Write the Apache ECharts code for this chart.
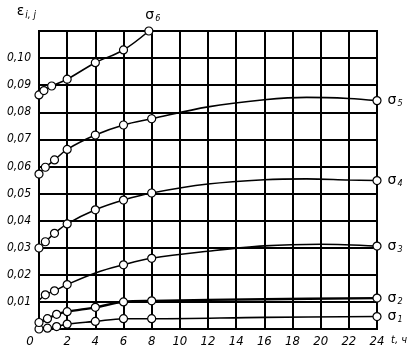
<!DOCTYPE html>
<html>
<head>
<meta charset="utf-8">
<script src="https://cdn.jsdelivr.net/npm/echarts@6/dist/echarts.min.js"></script>
<style>
  html, body { margin: 0; padding: 0; background: #fff; }
  #chart { width: 420px; height: 352px; }
</style>
</head>
<body>
<div id="chart"></div>
<script>
// t, ч  /  ε(i,j); marks = points drawn with a circle
const sigma1 = [[0, 0.0000], [0.6, 0.0003], [1.25, 0.0009], [2, 0.0018], [4, 0.0028], [6, 0.0038], [8, 0.0038], [16, 0.0043], [24, 0.0046]]
const marks1 = [0, 0.6, 1.25, 2, 4, 6, 8, 24]
const sigma2 = [[0, 0.0024], [0.6, 0.0038], [1.25, 0.0054], [2, 0.0064], [4, 0.0080], [6, 0.0100], [8, 0.0104], [16, 0.0110], [24, 0.0114]]
const marks2 = [0, 0.6, 1.25, 2, 4, 6, 8, 24]
const sigma3 = [[0, 0.0106], [0.45, 0.0126], [1.1, 0.0141], [2, 0.0164], [4, 0.0207], [6, 0.0237], [8, 0.0261], [12, 0.0287], [16, 0.0307], [20, 0.0313], [24, 0.0306]]
const marks3 = [0.45, 1.1, 2, 6, 8, 24]
const sigma4 = [[0, 0.0299], [0.45, 0.0322], [1.1, 0.0353], [2, 0.0388], [4, 0.0440], [6, 0.0476], [8, 0.0502], [12, 0.0535], [16, 0.0551], [19, 0.0554], [22, 0.0550], [24, 0.0548]]
const marks4 = [0, 0.45, 1.1, 2, 4, 6, 8, 24]
const sigma5 = [[0, 0.0572], [0.45, 0.0597], [1.1, 0.0624], [2, 0.0663], [4, 0.0716], [6, 0.0753], [8, 0.0776], [12, 0.0820], [16, 0.0846], [19, 0.0855], [22, 0.0851], [24, 0.0843]]
const marks5 = [0, 0.45, 1.1, 2, 4, 6, 8, 24]
const sigma6 = [[0, 0.0864], [0.35, 0.0880], [0.9, 0.0897], [2, 0.0922], [4, 0.0983], [6, 0.1030], [7.8, 0.1100]]
const marks6 = [0, 0.35, 0.9, 2, 4, 6, 7.8]

const names = ['1', '2', '3', '4', '5', '6']
const sets = [sigma1, sigma2, sigma3, sigma4, sigma5, sigma6]
const markSets = [marks1, marks2, marks3, marks4, marks5, marks6]

const font = "'Liberation Sans Narrow', 'DejaVu Sans Condensed', 'Liberation Sans', sans-serif"
const sigmaRich = {
  a: { fontFamily: 'DejaVu Sans', fontSize: 14, color: '#000' },
  b: { fontFamily: font, fontStyle: 'italic', fontSize: 9, color: '#000', padding: [7, 0, 0, 1] },
}

const series = sets.map((pts, i) => {
  const last = pts.length - 1
  return {
    type: 'line',
    smooth: 0.35,
    clip: false,
    z: 5,
    symbol: 'circle',
    symbolSize: 8,
    showAllSymbol: true,
    lineStyle: { color: '#000', width: i === 1 ? 2.4 : 1.6 },
    itemStyle: { color: '#fff', borderColor: '#000', borderWidth: 1.2 },
    emphasis: { disabled: true },
    data: pts.map((p, k) => {
      const item = { value: p }
      if (!markSets[i].includes(p[0])) item.symbol = 'none'
      if (k === last) {
        item.label = {
          show: true,
          position: i === 5 ? 'top' : 'right',
          distance: i === 5 ? 3 : 6,
          offset: i === 5 ? [4, 0] : [0, 0],
          formatter: '{a|σ}{b|' + names[i] + '}',
          rich: sigmaRich,
        }
      }
      return item
    }),
  }
})

const chart = echarts.init(document.getElementById('chart'))
chart.setOption({
  animation: false,
  backgroundColor: '#fff',
  grid: {
    left: 39, right: 43, top: 31, bottom: 23,
    show: true, borderColor: '#000', borderWidth: 2,
  },
  xAxis: {
    type: 'value', min: 0, max: 24, interval: 2,
    name: 't, ч', nameLocation: 'end', nameGap: 14, nameMoveOverlap: false,
    nameTextStyle: { fontFamily: font, fontStyle: 'italic', fontSize: 11, color: '#000', align: 'left', verticalAlign: 'top', padding: [6, 0, 0, 0] },
    axisLine: { lineStyle: { color: '#000', width: 2 } },
    axisTick: { show: false },
    axisLabel: {
      margin: 6, color: '#000', fontFamily: font, fontStyle: 'italic', fontSize: 13,
      formatter: (v) => (v === 0 ? '{o|0}' : String(v)),
      rich: { o: { fontFamily: font, fontStyle: 'italic', fontSize: 13, color: '#000', padding: [0, 18, 0, 0] } },
    },
    splitLine: { show: true, lineStyle: { color: '#000', width: 2 } },
  },
  yAxis: {
    type: 'value', min: 0, max: 0.11, interval: 0.01,
    name: '{e|ε}{s|i, j}', nameLocation: 'end', nameGap: 11, nameMoveOverlap: false,
    nameTextStyle: {
      align: 'right', padding: [0, 3, 0, 0],
      rich: {
        e: { fontFamily: 'DejaVu Sans', fontSize: 14, color: '#000' },
        s: { fontFamily: font, fontStyle: 'italic', fontSize: 10, color: '#000', padding: [8, 0, 0, 1] },
      },
    },
    axisLine: { lineStyle: { color: '#000', width: 2 } },
    axisTick: { show: false },
    axisLabel: {
      margin: 8, color: '#000', fontFamily: font, fontStyle: 'italic', fontSize: 12,
      formatter: (v) => {
        const n = Math.round(v * 100)
        if (n === 0 || n === 11) return ''
        return '0,' + String(n).padStart(2, '0')
      },
    },
    splitLine: { show: true, lineStyle: { color: '#000', width: 2 } },
  },
  series: series,
})
</script>
</body>
</html>
